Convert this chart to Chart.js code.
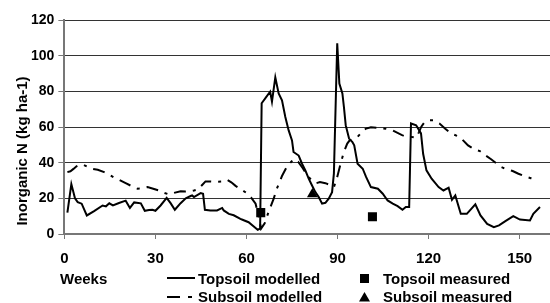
<!DOCTYPE html>
<html><head><meta charset="utf-8">
<script src="https://cdn.jsdelivr.net/npm/chart.js@4"></script>
<style>html,body{margin:0;padding:0;background:#fff}#wrap{width:550px;height:303px;position:relative}</style>
</head><body><div id="wrap"><canvas id="c"></canvas></div>
<script>
const topsoilWeeks = [1,2.3,3.5,4.4,5.7,7.4,9.8,12.6,13.7,14.8,16,18,20.2,21.6,23,25.2,26.5,27.9,29,30,31.7,33.7,35,36.4,38.3,40,41.6,42.1,42.7,44.9,45.7,46.3,48.1,50.3,52,52.5,54.2,55.8,58,58.7,60.7,62.9,63.7,64.5,65,66.6,67.8,68.4,69.5,70.6,71.7,72.8,73.9,75,75.5,77.2,78.3,79.4,80.5,81.6,82.7,83.8,84.9,86,87.1,88.2,88.8,89.9,90.6,91.6,92.1,92.7,93.8,94.9,95.5,96.6,98.3,99.4,101,103.3,104.9,106.5,108.2,109.8,111.4,112.5,113.6,114.2,115.9,117.5,118.2,119.3,121,123.3,124.9,126.6,127.7,128.8,130.6,132.6,135.4,137.1,139.3,141.5,143.2,145.3,147.9,150.1,153.4,154.5,156.7];
const topsoilModelled = [12,28,20,17.9,17,10.4,12.8,16,15.5,17.2,16,17.4,18.7,14.6,17.7,17.2,13,13.5,13.6,13,16,20.3,17.3,13.6,17.3,20,21.3,21.6,20.7,22.9,22.5,13.6,13.2,13.2,14.6,13.2,11.3,10.5,8.5,8,6.6,3.5,2.4,3,73.3,77,79.8,74.2,87.8,78.8,75,65.6,58.1,52.5,46,44,39.4,35.7,31,27.2,23.5,20.7,17,17.5,19.8,23.5,33.8,107,84.4,78.8,71.3,61,53.5,51.6,49.7,39.4,36.6,32,26.3,25.4,22.6,18.8,17,15.6,13.6,15.1,15.1,62,61,56.4,45,35.7,31,26.3,24.4,26,19.2,21.6,11.3,11.3,16.6,10.4,5.7,3.8,4.8,7.2,10,8.1,7.6,11.3,15.1];
const subsoilWeeks = [1,2,3,4,5,6,8.8,11,13.1,15,17,18,20.2,22,24.1,25.5,27.4,29,31.2,33,34.5,36,38.3,40,41.6,42.7,44,45.4,46.5,48.1,50,52.5,53.6,55,56.4,58,60,61.5,63,64,64.8,66,67.3,69,70,71.7,73.4,74.5,75.5,77,78.5,80,81.5,83,84.2,86,87.1,88.8,89.9,91,92.1,93.2,94,95.4,96.6,98,99.4,101,103.2,106,108.2,111.4,114,115.9,116.8,117.6,118.7,120.4,121.5,123.6,125.5,127.5,130.3,133,135,136.9,138.8,140.6,143.9,145.8,147.7,149.6,151.5,153.7,155.9];
const subsoilModelled = [34.7,35.2,36.5,38,38.8,39,36.7,36,34.7,33,31,30.4,28.5,27,25.4,25.5,26.3,25.5,24.4,23,22.2,23,24,23.8,24,24.4,25,27.5,29.5,29.5,29.3,29.5,30.4,29,27,25.3,23,20.5,17,10,3,6,12.5,20,25.4,32.5,38,40,42,40.5,37,33,30,28.5,29.1,28.5,27.8,26.3,32,39.4,46,50.7,52.5,53.6,54.5,57,59.1,59.8,59.6,59,58.1,55.3,54.5,54,57,60.2,62.8,63.8,63.8,61.9,59,56.3,54.4,49.7,47.5,46.5,44,41.9,37.6,36.2,35.3,33.8,32.5,31.3,30.4];
const topsoilMeasuredWeeks = [64.7, 101.5];
const topsoilMeasured = [12, 9.7];
const subsoilMeasuredWeeks = [81.7];
const subsoilMeasured = [22.3];
const xTicks = [0,30,60,90,120,150];
const yTicks = [0,20,40,60,80,100,120];
const seriesNames = ['Topsoil modelled','Topsoil measured','Subsoil modelled','Subsoil measured'];
const xTitle = 'Weeks';
const yTitle = 'Inorganic N (kg ha-1)';

const FONT = '"Liberation Sans", Arial, sans-serif';
const DASH = [12,7,3,7];
const pts = (xs, ys) => xs.map((x,i)=>({x:x,y:ys[i]}));

const extras = {
  id:'extras',
  afterDraw(chart){
    const ctx = chart.ctx;
    ctx.save();
    ctx.fillStyle = '#000';
    ctx.strokeStyle = '#000';
    ctx.font = 'bold 15px ' + FONT;
    ctx.save();
    ctx.translate(27,151);
    ctx.rotate(-Math.PI/2);
    ctx.textAlign = 'center';
    ctx.textBaseline = 'alphabetic';
    ctx.fillText(yTitle,0,0);
    ctx.restore();
    ctx.textAlign = 'left';
    ctx.textBaseline = 'alphabetic';
    ctx.fillText(xTitle,60,284);
    // legend row 1
    ctx.lineWidth = 2;
    ctx.beginPath(); ctx.moveTo(167,278); ctx.lineTo(195,278); ctx.stroke();
    ctx.fillText(seriesNames[0],198,284);
    ctx.fillRect(360,274,9,9);
    ctx.fillText(seriesNames[1],383,284);
    // legend row 2
    ctx.setLineDash([13,8,4,8]);
    ctx.beginPath(); ctx.moveTo(167,297); ctx.lineTo(195,297); ctx.stroke();
    ctx.setLineDash([]);
    ctx.fillText(seriesNames[2],198,302);
    ctx.beginPath(); ctx.moveTo(364.5,292); ctx.lineTo(370,301.5); ctx.lineTo(359,301.5); ctx.closePath(); ctx.fill();
    ctx.fillText(seriesNames[3],383,302);
    ctx.restore();
  }
};

new Chart(document.getElementById('c'), {
  type:'line',
  data:{datasets:[
    {label:seriesNames[1], data:pts(topsoilMeasuredWeeks, topsoilMeasured), showLine:false, pointStyle:'rect', pointRadius:6.4, backgroundColor:'#000', borderColor:'#000', borderWidth:0},
    {label:seriesNames[3], data:pts(subsoilMeasuredWeeks, subsoilMeasured), showLine:false, pointStyle:'triangle', pointRadius:6.2, backgroundColor:'#000', borderColor:'#000', borderWidth:0},
    {label:seriesNames[0], data:pts(topsoilWeeks, topsoilModelled), borderColor:'#000', borderWidth:2, pointRadius:0, tension:0, fill:false},
    {label:seriesNames[2], data:pts(subsoilWeeks, subsoilModelled), borderColor:'#000', borderWidth:2, borderDash:DASH, pointRadius:0, tension:0, fill:false}
  ]},
  options:{
    responsive:true, maintainAspectRatio:false, animation:false, devicePixelRatio:1,
    layout:{autoPadding:false, padding:{left:27, top:20, right:0, bottom:24}},
    plugins:{legend:{display:false}, tooltip:{enabled:false}},
    scales:{
      x:{type:'linear', min:0, max:160,
        afterBuildTicks:s=>{s.ticks = xTicks.map(v=>({value:v}));},
        ticks:{font:{family:FONT, size:15, weight:'bold'}, color:'#000', padding:11, maxRotation:0},
        grid:{drawOnChartArea:false, tickLength:5, color:'#777'},
        border:{color:'#777', width:2}},
      y:{type:'linear', min:0, max:120,
        afterBuildTicks:s=>{s.ticks = yTicks.map(v=>({value:v}));},
        ticks:{font:{family:FONT, size:14, weight:'bold'}, color:'#000', padding:4},
        grid:{color:'#333', lineWidth:1, tickLength:6, tickColor:'#777'},
        border:{color:'#777', width:2}}
    }
  },
  plugins:[extras]
});
</script>
</body></html>
